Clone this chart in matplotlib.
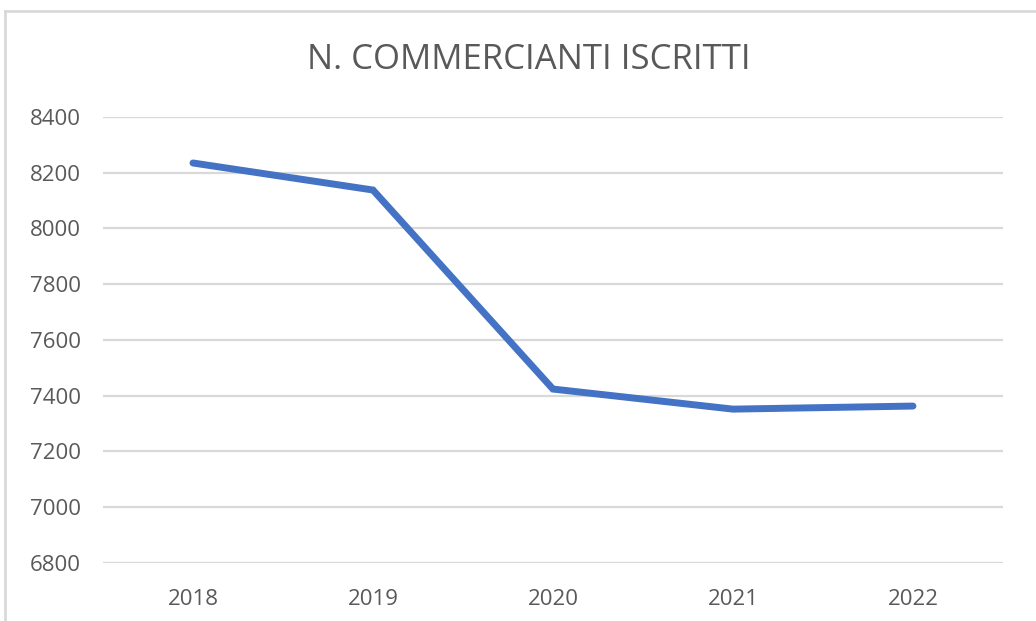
import matplotlib.pyplot as plt
from matplotlib.lines import Line2D

# dati
years = ['2018', '2019', '2020', '2021', '2022']
commercianti = [8235, 8138, 7424, 7352, 7363]
y_ticks = [6800, 7000, 7200, 7400, 7600, 7800, 8000, 8200, 8400]

plt.rcParams['font.family'] = ['Open Sans', 'DejaVu Sans']

fig = plt.figure(figsize=(10.36, 6.21), dpi=100)
ax = fig.add_axes([0.0994, 0.0934, 0.8687, 0.7182])

x = range(len(years))
ax.plot(x, commercianti, color='#4472C4', lw=5, solid_capstyle='round', solid_joinstyle='miter', zorder=3)

ax.set_xlim(-0.5, len(years) - 0.5)
ax.set_ylim(6800, 8400)
ax.set_yticks(y_ticks)
ax.set_xticks(list(x))
ax.set_xticklabels(years)
ax.tick_params(axis='both', length=0, labelsize=16, colors='#595959')
ax.tick_params(axis='x', pad=19)
ax.tick_params(axis='y', pad=16)
ax.grid(axis='y', color='#D9D9D9', lw=1.6)
ax.set_axisbelow(True)
for s in ax.spines.values():
    s.set_visible(False)

fig.text(0.51, 0.903, 'N. COMMERCIANTI ISCRITTI', ha='center', va='center',
         fontsize=25, color='#595959')

# cornice del grafico
fig.add_artist(Line2D([5/1036, 1], [1 - 11/621, 1 - 11/621], color='#D9D9D9', lw=2))
fig.add_artist(Line2D([5/1036, 5/1036], [0, 1 - 11/621], color='#D9D9D9', lw=2))

plt.savefig('out.png', dpi=100)
